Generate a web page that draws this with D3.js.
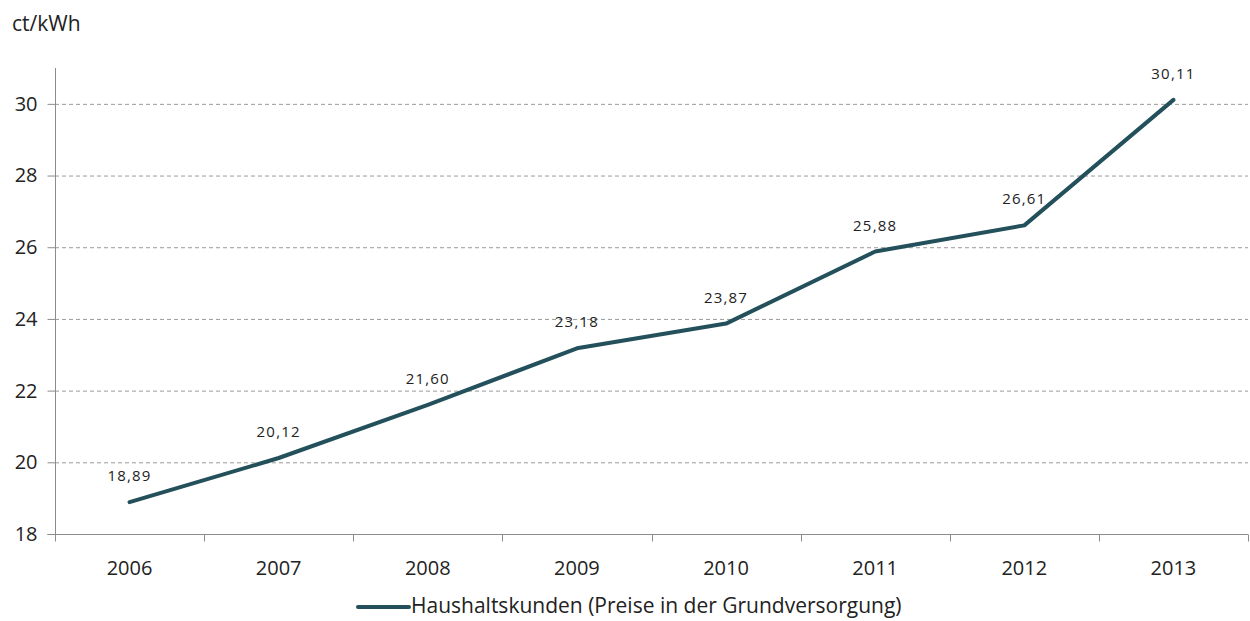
<!DOCTYPE html>
<html><head><meta charset="utf-8">
<script src="https://cdn.jsdelivr.net/npm/d3@7"></script>
<style>body{margin:0;background:#fff}svg{display:block}text{font-family:"Open Sans",sans-serif}</style>
</head><body><svg id="c" width="1250" height="621"></svg>
<script>
const years = ["2006","2007","2008","2009","2010","2011","2012","2013"];
const values = [18.89,20.12,21.60,23.18,23.87,25.88,26.61,30.11];
const yTicks = [18,20,22,24,26,28,30];
const seriesName = "Haushaltskunden (Preise in der Grundversorgung)";
const unit = "ct/kWh";

(function(){
const svg = d3.select("#c");
const mL=55, mR=1248, mT=68, mB=534;
const x = d3.scaleBand().domain(years).range([mL,mR]);
const y = d3.scaleLinear().domain([18,31]).range([mB,mT]);
const color = "#23505b";
const fmt = v => v.toFixed(2).replace(".", ",");

// gridlines
svg.append("g").selectAll("line").data(yTicks.filter(t=>t>18)).join("line")
  .attr("x1",mL).attr("x2",mR).attr("y1",d=>y(d)+0.5).attr("y2",d=>y(d)+0.5)
  .attr("stroke","#9a9a9a").attr("stroke-dasharray","4,3").attr("stroke-width",1);

// y axis
const ya = svg.append("g").attr("transform",`translate(${mL+0.5},0)`)
  .call(d3.axisLeft(y).tickValues(yTicks).tickSize(8).tickPadding(10).tickFormat(d=>d));
ya.select(".domain").attr("stroke","#8c8c8c").attr("d",`M-8,${y(18)+0.5}H0V${mT}`);
ya.selectAll(".tick line").attr("stroke","#8c8c8c");
ya.selectAll(".tick text").attr("font-size",20).attr("fill","#222").attr("font-family","'Open Sans',sans-serif");

// x axis
const xa = svg.append("g").attr("transform",`translate(0,${mB+0.5})`);
xa.append("line").attr("x1",mL).attr("x2",mR).attr("stroke","#8c8c8c");
xa.selectAll("line.t").data(d3.range(years.length+1)).join("line").attr("class","t")
  .attr("x1",i=>Math.round(mL+i*x.step())+0.5).attr("x2",i=>Math.round(mL+i*x.step())+0.5)
  .attr("y1",0).attr("y2",7).attr("stroke","#8c8c8c");
xa.selectAll("text").data(years).join("text")
  .attr("x",d=>x(d)+x.bandwidth()/2).attr("y",40).attr("text-anchor","middle")
  .attr("font-size",20).attr("fill","#222").text(d=>d);

// line
const line = d3.line().x((d,i)=>x(years[i])+x.bandwidth()/2).y(d=>y(d));
svg.append("path").datum(values).attr("d",line).attr("fill","none")
  .attr("stroke",color).attr("stroke-width",4).attr("stroke-linejoin","round").attr("stroke-linecap","round");

// labels
svg.append("g").selectAll("text").data(values).join("text")
  .attr("x",(d,i)=>x(years[i])+x.bandwidth()/2).attr("y",d=>y(d)-21)
  .attr("text-anchor","middle").attr("font-size",15).attr("letter-spacing","1.2px")
  .attr("fill","#222").text(fmt);

// unit
svg.append("text").attr("x",12).attr("y",31).attr("font-size",21).attr("fill","#222").text(unit);

// legend
svg.append("line").attr("x1",358).attr("x2",409).attr("y1",607).attr("y2",607)
  .attr("stroke",color).attr("stroke-width",4).attr("stroke-linecap","round");
svg.append("text").attr("x",411).attr("y",613).attr("font-size",21).attr("fill","#222").text(seriesName);
})();
</script></body></html>
